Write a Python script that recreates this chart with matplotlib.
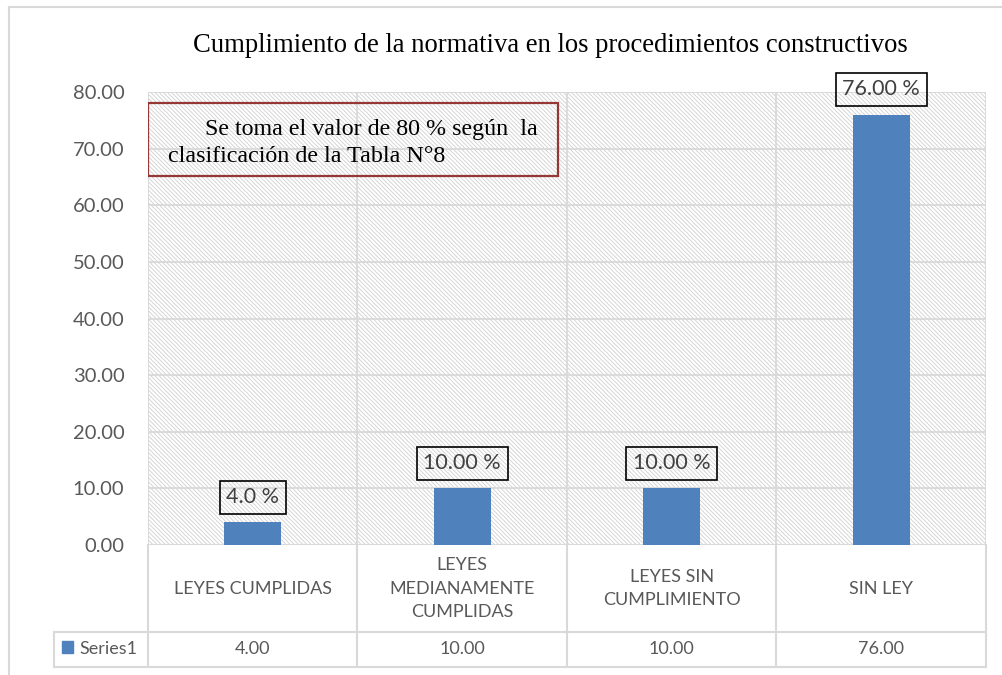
import matplotlib.pyplot as plt
from matplotlib.patches import Rectangle
from matplotlib.lines import Line2D

# data
categories = ['LEYES CUMPLIDAS', 'LEYES\nMEDIANAMENTE\nCUMPLIDAS',
              'LEYES SIN\nCUMPLIMIENTO', 'SIN LEY']
values = [4.00, 10.00, 10.00, 76.00]
bar_labels = ['4.0 %', '10.00 %', '10.00 %', '76.00 %']
series_name = 'Series1'
title = 'Cumplimiento de la normativa en los procedimientos constructivos'
note_lines = ['Se toma el valor de 80 % según  la',
              'clasificación de la Tabla N°8']

W, H = 1003, 675
BLUE = '#4F81BD'
GRID = '#D9D9D9'
sans = ['Lato', 'DejaVu Sans']
serif = ['Liberation Serif', 'DejaVu Serif']

plt.rcParams['hatch.linewidth'] = 0.6
plt.rcParams['hatch.color'] = '#CFCFCF'

fig = plt.figure(figsize=(W / 100, H / 100), dpi=100)


def fx(px):
    return px / W


def fy(py):
    return 1 - py / H


# outer chart frame (left and top visible)
fig.add_artist(Line2D([fx(9), fx(9)], [fy(7), 0], color=GRID, lw=1.5))
fig.add_artist(Line2D([fx(9), 1], [fy(7), fy(7)], color=GRID, lw=1.5))

# main plot area
left, right, top, bottom = 148, 986, 92, 545
ax = fig.add_axes([fx(left), fy(bottom), fx(right - left), (bottom - top) / H])
x = list(range(len(categories)))
ax.set_xlim(-0.5, len(categories) - 0.5)
ax.set_ylim(0, 80)

ax.add_patch(Rectangle((0, 0), 1, 1, transform=ax.transAxes, facecolor='white',
                       edgecolor='#CFCFCF', hatch='\\' * 8, lw=0, zorder=0))

ax.set_yticks(range(0, 81, 10))
ax.set_yticklabels([f'{v:.2f}' for v in range(0, 81, 10)])
ax.tick_params(axis='y', length=0, pad=17, labelsize=14.5, labelcolor='#595959')
for lab in ax.get_yticklabels():
    lab.set_fontfamily(sans)
ax.set_xticks([])
ax.grid(axis='y', color=GRID, lw=1.3, zorder=1)
for b in [i - 0.5 for i in range(len(categories) + 1)]:
    ax.axvline(b, color=GRID, lw=1.3, zorder=1)
for s in ax.spines.values():
    s.set_visible(False)
ax.axhline(0, color=GRID, lw=1.5, zorder=1)

bars = ax.bar(x, values, width=0.27, color=BLUE, zorder=3)
for bar, lab in zip(bars, bar_labels):
    ax.annotate(lab, (bar.get_x() + bar.get_width() / 2, bar.get_height()),
                xytext=(0, 11), textcoords='offset points', ha='center', va='bottom',
                fontsize=15.5, color='#404040', family=sans, zorder=5,
                bbox=dict(boxstyle='square,pad=0.3', fc='none', ec='black', lw=1.2))

# note box
bx0, bx1, by0, by1 = 148, 558, 103, 176
ax.add_patch(Rectangle(((bx0 - left) / (right - left), (bottom - by1) / (bottom - top)),
                       (bx1 - bx0) / (right - left), (by1 - by0) / (bottom - top),
                       transform=ax.transAxes, fill=False, ec='#953735', lw=1.6, zorder=6))
ax.text((205 - left) / (right - left), (bottom - 129) / (bottom - top), note_lines[0],
        transform=ax.transAxes, ha='left', va='center', fontsize=17.3,
        family=serif, color='black', zorder=7)
ax.text((168 - left) / (right - left), (bottom - 157) / (bottom - top), note_lines[1],
        transform=ax.transAxes, ha='left', va='center', fontsize=17.3,
        family=serif, color='black', zorder=7)

fig.text(fx(550), fy(45), title, ha='center', va='center', fontsize=19.2,
         family=serif, color='black')

# data table under the chart
unit = (right - left) / len(categories)
tab_left, row1, row2 = 54, 632, 667
tab = fig.add_axes([fx(tab_left), fy(row2), fx(right - tab_left), (row2 - bottom) / H])
tab.set_xlim(-0.5 - (left - tab_left) / unit, len(categories) - 0.5)
tab.set_ylim(row2, bottom)
tab.axis('off')
for b in [i - 0.5 for i in range(len(categories) + 1)]:
    tab.plot([b, b], [bottom, row2], color=GRID, lw=1.5, clip_on=False)
lx = -0.5 - (left - tab_left) / unit
tab.plot([lx, lx], [row1, row2], color=GRID, lw=1.5, clip_on=False)
tab.plot([lx, len(categories) - 0.5], [row1, row1], color=GRID, lw=1.5, clip_on=False)
tab.plot([lx, len(categories) - 0.5], [row2, row2], color=GRID, lw=1.5, clip_on=False)
for i, (c, v) in enumerate(zip(categories, values)):
    tab.text(i, (bottom + row1) / 2, c, ha='center', va='center', fontsize=13,
             color='#595959', family=sans, linespacing=1.6)
    tab.text(i, (row1 + row2) / 2, f'{v:.2f}', ha='center', va='center',
             fontsize=13, color='#595959', family=sans)
tab.add_patch(Rectangle((lx + 8 / unit, 641), 11 / unit, 12, color=BLUE, clip_on=False))
tab.text(lx + 25 / unit, (row1 + row2) / 2, series_name, ha='left', va='center',
         fontsize=13, color='#595959', family=sans)

fig.savefig('out.png', dpi=100)
